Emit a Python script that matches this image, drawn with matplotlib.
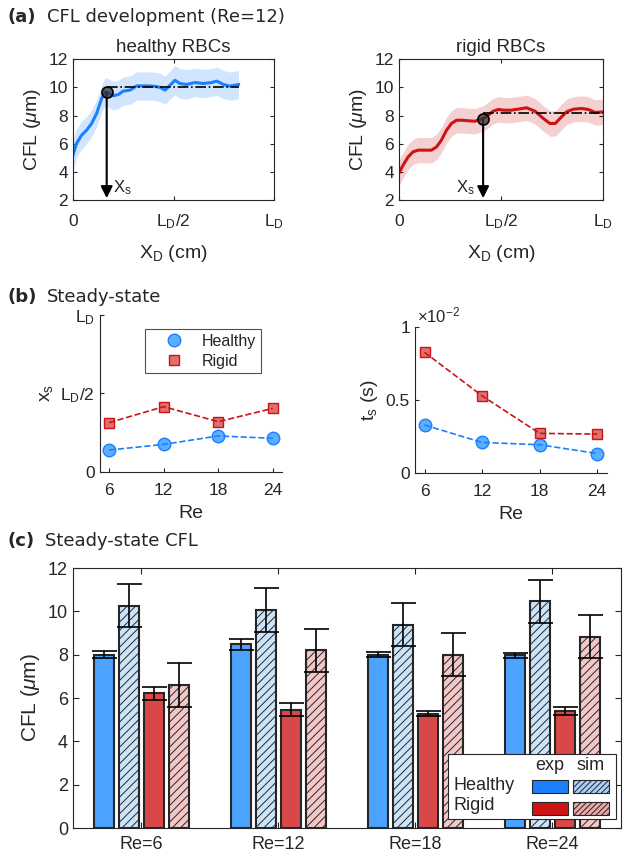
#!/usr/bin/env python

import numpy as np
import matplotlib
matplotlib.use('Agg')
import matplotlib.pyplot as plt
from matplotlib.patches import Rectangle
from matplotlib.lines import Line2D

plt.rcParams['font.family'] = ['Liberation Sans', 'DejaVu Sans']
plt.rcParams['mathtext.fontset'] = 'custom'
plt.rcParams['mathtext.rm'] = 'Liberation Sans'
plt.rcParams['mathtext.it'] = 'Liberation Sans:italic'
plt.rcParams['xtick.direction'] = 'in'
plt.rcParams['ytick.direction'] = 'in'
plt.rcParams['axes.edgecolor'] = '#262626'
plt.rcParams['xtick.color'] = '#262626'
plt.rcParams['ytick.color'] = '#262626'
plt.rcParams['text.color'] = '#262626'
plt.rcParams['axes.labelcolor'] = '#262626'
plt.rcParams['hatch.linewidth'] = 0.7

BLUE = '#1a80ff'
RED = '#cc1414'

# (a) CFL development along channel at Re=12 (x in units of L_D)
healthy_x = [0.0, 0.018, 0.043, 0.068, 0.093, 0.118, 0.143, 0.159, 0.176, 0.2, 0.226,
             0.25, 0.284, 0.317, 0.366, 0.4, 0.433, 0.458, 0.483, 0.507, 0.532, 0.566,
             0.607, 0.648, 0.69, 0.715, 0.748, 0.781, 0.823]
healthy_cfl = [5.19, 6.02, 6.61, 6.96, 7.44, 8.15, 9.21, 9.68, 9.6, 9.4, 9.49,
               9.73, 9.8, 10.1, 10.1, 10.08, 10.0, 9.8, 10.15, 10.5, 10.27, 10.2,
               10.34, 10.27, 10.34, 10.44, 10.2, 10.08, 10.2]
healthy_sd = [1.1, 1.0, 1.0, 0.95, 0.95, 0.95, 0.95, 1.0, 1.0, 1.0, 1.0,
              1.0, 1.0, 1.0, 1.0, 1.0, 1.0, 1.0, 1.0, 1.05, 1.05, 1.05,
              1.0, 1.0, 1.0, 1.0, 1.0, 1.0, 1.0]
healthy_xs = 0.168
healthy_cfl_ss = 10.04

rigid_x = [0.0, 0.021, 0.046, 0.07, 0.095, 0.127, 0.16, 0.185, 0.209, 0.234, 0.258,
           0.283, 0.307, 0.34, 0.373, 0.397, 0.413, 0.438, 0.462, 0.487, 0.516, 0.549,
           0.582, 0.626, 0.667, 0.708, 0.74, 0.766, 0.789, 0.822, 0.855, 0.895, 0.928,
           0.961, 1.0]
rigid_cfl = [3.89, 4.48, 5.07, 5.43, 5.55, 5.55, 5.55, 5.78, 6.26, 6.96, 7.44,
             7.67, 7.67, 7.63, 7.6, 7.72, 7.79, 8.03, 8.31, 8.43, 8.38, 8.38,
             8.45, 8.55, 8.31, 7.79, 7.44, 7.44, 7.79, 8.27, 8.45, 8.5, 8.43,
             8.22, 8.26]
rigid_sd = [0.9] * 35
rigid_xs = 0.413
rigid_cfl_ss = 8.19

# (b) steady-state position and time
re = [6, 12, 18, 24]
xs_healthy = [0.138, 0.174, 0.228, 0.213]
xs_rigid = [0.313, 0.415, 0.319, 0.404]
ts_healthy = [0.00328, 0.00209, 0.00193, 0.00133]
ts_rigid = [0.00826, 0.00528, 0.00271, 0.00266]

# (c) steady-state CFL
re_labels = ['Re=6', 'Re=12', 'Re=18', 'Re=24']
healthy_exp = [8.0, 8.48, 8.0, 7.98]
healthy_exp_err = [0.15, 0.25, 0.12, 0.12]
healthy_sim = [10.26, 10.06, 9.39, 10.46]
healthy_sim_err = [1.0, 1.0, 1.0, 1.0]
rigid_exp = [6.23, 5.46, 5.28, 5.41]
rigid_exp_err = [0.3, 0.3, 0.12, 0.18]
rigid_sim = [6.6, 8.2, 8.0, 8.83]
rigid_sim_err = [1.0, 1.0, 1.0, 1.0]

fig = plt.figure(figsize=(6.23, 8.56), dpi=100)

def header(y, tag, text, dx):
    fig.text(0.012, y, tag, family='DejaVu Sans', weight='bold', size=13, va='center')
    fig.text(dx, y, text, family='DejaVu Sans', size=13, va='center')

header(0.980, '(a)', 'CFL development (Re=12)', 0.0754)
header(0.653, '(b)', 'Steady-state', 0.0754)
header(0.368, '(c)', 'Steady-state CFL', 0.0722)

LD_LABELS = ['0', r'L$_\mathrm{D}$/2', r'L$_\mathrm{D}$']

def cfl_panel(ax, x, cfl, sd, xs, cfl_ss, color, title, txt_dx, txt_ha):
    x = np.array(x)
    cfl = np.array(cfl)
    sd = np.array(sd)
    ax.fill_between(x, cfl - sd, cfl + sd, color=color, alpha=0.2, lw=0)
    ax.plot(x, cfl, color=color, lw=2.2)
    ax.plot([xs, x[-1]], [cfl_ss, cfl_ss], color='k', ls='-.', lw=1.2)
    ycross = np.interp(xs, x, cfl)
    ax.annotate('', xy=(xs, 2.15), xytext=(xs, ycross),
                arrowprops=dict(arrowstyle='-|>,head_width=0.35,head_length=0.7',
                                color='k', lw=1.5, mutation_scale=10, shrinkA=0, shrinkB=0))
    ax.plot(xs, ycross, 'o', ms=8, mfc=(0.2, 0.2, 0.2, 0.75), mec='k', mew=1.2, zorder=5)
    ax.text(xs + txt_dx, 2.9, r'X$_\mathrm{s}$', size=12, ha=txt_ha, va='center')
    ax.set_xlim(0, 1)
    ax.set_ylim(2, 12)
    ax.set_xticks([0, 0.5, 1])
    ax.set_xticklabels(LD_LABELS)
    ax.set_yticks([2, 4, 6, 8, 10, 12])
    ax.tick_params(labelsize=12.5, top=True, right=True, length=3)
    ax.tick_params(axis='x', pad=18.5)
    for lbl in ax.get_xticklabels():
        lbl.set_verticalalignment('baseline')
    ax.set_xlabel(r'X$_\mathrm{D}$ (cm)', size=14, labelpad=9)
    ax.set_ylabel(r'CFL ($\mu$m)', size=14)
    ax.set_title(title, size=13.5, pad=5)

ax1 = fig.add_axes([0.117, 0.766, 0.323, 0.165])
cfl_panel(ax1, healthy_x, healthy_cfl, healthy_sd, healthy_xs, healthy_cfl_ss,
          BLUE, 'healthy RBCs', 0.03, 'left')
ax2 = fig.add_axes([0.640, 0.766, 0.328, 0.165])
cfl_panel(ax2, rigid_x, rigid_cfl, rigid_sd, rigid_xs, rigid_cfl_ss,
          RED, 'rigid RBCs', -0.04, 'right')

def steady_panel(ax, yh, yr):
    ax.plot(re, yh, 'o', ms=9, mfc='#5caeff', mec=BLUE, mew=1.0, zorder=2)
    ax.plot(re, yh, '--', color=BLUE, lw=1.2, zorder=3)
    ax.plot(re, yr, 's', ms=7.5, mfc='#e07070', mec=RED, mew=1.0, zorder=2)
    ax.plot(re, yr, '--', color=RED, lw=1.2, zorder=3)
    ax.spines['top'].set_visible(False)
    ax.spines['right'].set_visible(False)
    ax.set_xlim(5, 25)
    ax.set_xticks(re)
    ax.tick_params(labelsize=12.5, length=3)
    ax.tick_params(axis='x', pad=8)
    ax.set_xlabel('Re', size=14, labelpad=5)

ax3 = fig.add_axes([0.1605, 0.449, 0.292, 0.183])
steady_panel(ax3, xs_healthy, xs_rigid)
ax3.set_ylim(0, 1)
ax3.set_yticks([0, 0.5, 1])
ax3.set_yticklabels(LD_LABELS)
ax3.set_ylabel(r'x$_\mathrm{s}$', size=14)
handles = [Line2D([], [], ls='none', marker='o', ms=9, mfc='#5caeff', mec=BLUE),
           Line2D([], [], ls='none', marker='s', ms=7.5, mfc='#e07070', mec=RED)]
leg = ax3.legend(handles, ['Healthy', 'Rigid'], loc='upper left',
                 bbox_to_anchor=(0.247, 0.911), fontsize=11.5, frameon=True,
                 fancybox=False, edgecolor='#262626', handletextpad=0.15,
                 borderpad=0.3, labelspacing=0.3, handlelength=3.1,
                 borderaxespad=0)
leg.get_frame().set_linewidth(0.8)

ax4 = fig.add_axes([0.666, 0.4475, 0.308, 0.1706])
steady_panel(ax4, ts_healthy, ts_rigid)
ax4.set_ylim(0, 0.01)
ax4.set_yticks([0, 0.005, 0.01])
ax4.set_yticklabels(['0', '0.5', '1'])
ax4.set_ylabel(r't$_\mathrm{s}$ (s)', size=14)
ax4.text(0.01, 1.01, r'$\times$10$^{-2}$', transform=ax4.transAxes, size=12,
         ha='left', va='bottom')

# (c) bars
ax5 = fig.add_axes([0.117, 0.0327, 0.8796, 0.3037])
pos = np.arange(1, len(re_labels) + 1)
w = 0.141
ekw = dict(elinewidth=1.2, capthick=1.2, ecolor='k')
series = [(healthy_exp, healthy_exp_err, '#4ca3ff', None, -0.274),
          (healthy_sim, healthy_sim_err, '#cce4fa', '////', -0.091),
          (rigid_exp, rigid_exp_err, '#d94848', None, 0.091),
          (rigid_sim, rigid_sim_err, '#f3c7c7', '////', 0.274)]
for vals, err, fc, hatch, off in series:
    ax5.bar(pos + off, vals, w, yerr=err, color=fc, edgecolor='#262626', lw=1.5,
            hatch=hatch, capsize=9, error_kw=ekw)
ax5.set_xlim(0.5, 4.5)
ax5.set_ylim(0, 12)
ax5.set_xticks(pos)
ax5.set_xticklabels(re_labels)
ax5.set_yticks(range(0, 13, 2))
ax5.tick_params(labelsize=13, top=True, right=True, length=4)
ax5.tick_params(axis='x', pad=6)
ax5.set_ylabel(r'CFL ($\mu$m)', size=15)

# legend box for (c)
tr = ax5.transAxes
ax5.add_patch(Rectangle((0.684, 0.035), 0.307, 0.25, fc='white', ec='#262626',
                        lw=0.8, transform=tr, zorder=6))
ax5.text(0.870, 0.242, 'exp', transform=tr, size=13, ha='center', va='center', zorder=7)
ax5.text(0.945, 0.242, 'sim', transform=tr, size=13, ha='center', va='center', zorder=7)
ax5.text(0.695, 0.165, 'Healthy', transform=tr, size=13, ha='left', va='center', zorder=7)
ax5.text(0.695, 0.088, 'Rigid', transform=tr, size=13, ha='left', va='center', zorder=7)
leg_cells = [(0.838, 0.135, BLUE, None), (0.912, 0.135, '#a8d0fa', '//////'),
             (0.838, 0.05, RED, None), (0.912, 0.05, '#eaa8a8', '//////')]
for lx, ly, fc, hatch in leg_cells:
    ax5.add_patch(Rectangle((lx, ly), 0.066, 0.05, fc=fc, ec='#262626', lw=0.8,
                            hatch=hatch, transform=tr, zorder=7))

fig.savefig('out.png', dpi=100)
